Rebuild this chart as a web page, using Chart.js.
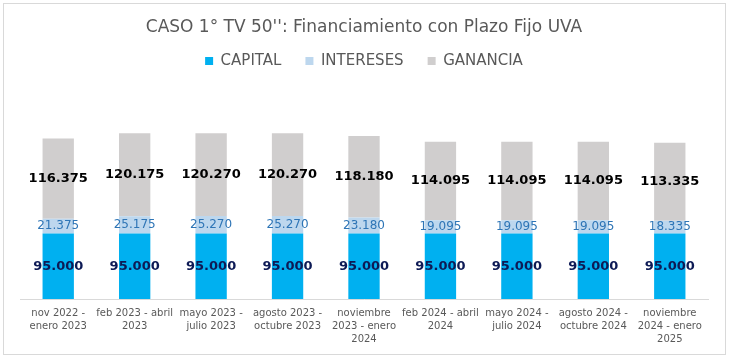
<!DOCTYPE html>
<html>
<head>
<meta charset="utf-8">
<script src="https://cdn.jsdelivr.net/npm/chart.js@4"></script>
<style>
  html, body { margin: 0; padding: 0; background: #fff; }
  #wrap { width: 730px; height: 359px; }
</style>
</head>
<body>
<div id="wrap"><canvas id="casoChart" width="730" height="359"></canvas></div>
<script>
// periods shown on the x axis (already split in lines)
const periods = [
  ['nov 2022 -', 'enero 2023'],
  ['feb 2023 - abril', '2023'],
  ['mayo 2023 -', 'julio 2023'],
  ['agosto 2023 -', 'octubre 2023'],
  ['noviembre', '2023 - enero', '2024'],
  ['feb 2024 - abril', '2024'],
  ['mayo 2024 -', 'julio 2024'],
  ['agosto 2024 -', 'octubre 2024'],
  ['noviembre', '2024 - enero', '2025']
];
const capital = [95000, 95000, 95000, 95000, 95000, 95000, 95000, 95000, 95000];
const intereses = [21375, 25175, 25270, 25270, 23180, 19095, 19095, 19095, 18335];
const ganancia = [116375, 120175, 120270, 120270, 118180, 114095, 114095, 114095, 113335];

const FONT = "'DejaVu Sans', sans-serif";

function fmt(n) {
  return String(n).replace(/\B(?=(\d{3})+(?!\d))/g, '.');
}

// white background + thin frame like the excel chart area
const frame = {
  id: 'frame',
  beforeDraw(chart) {
    const c = chart.ctx;
    c.save();
    c.fillStyle = '#fff';
    c.fillRect(0, 0, chart.width, chart.height);
    c.strokeStyle = '#d9d9d9';
    c.lineWidth = 1;
    c.strokeRect(3.5, 3.5, chart.width - 8, chart.height - 8);
    c.restore();
  }
};

// value labels centered in each segment
const labelStyles = [
  { font: 'bold 13px ' + FONT, color: '#0d1a55' },
  { font: '12px ' + FONT, color: '#2e75b6' },
  { font: 'bold 13px ' + FONT, color: '#000000' }
];
const segLabels = {
  id: 'segLabels',
  afterDatasetsDraw(chart) {
    const c = chart.ctx;
    c.save();
    c.textAlign = 'center';
    c.textBaseline = 'middle';
    chart.data.datasets.forEach((ds, i) => {
      const meta = chart.getDatasetMeta(i);
      c.font = labelStyles[i].font;
      c.fillStyle = labelStyles[i].color;
      meta.data.forEach((bar, j) => {
        const p = bar.getProps(['x', 'y', 'base'], true);
        c.fillText(fmt(ds.data[j]), p.x, (p.y + p.base) / 2);
      });
    });
    c.restore();
  }
};

new Chart(document.getElementById('casoChart'), {
  type: 'bar',
  data: {
    labels: periods,
    datasets: [
      { label: 'CAPITAL', data: capital, backgroundColor: '#00b0f0' },
      { label: 'INTERESES', data: intereses, backgroundColor: '#bdd7ee' },
      { label: 'GANANCIA', data: ganancia, backgroundColor: '#d0cece' }
    ]
  },
  options: {
    responsive: false,
    animation: false,
    layout: { padding: { left: 20, right: 22, top: 0, bottom: 5 } },
    datasets: {
      bar: { categoryPercentage: 1, barPercentage: 0.41 }
    },
    plugins: {
      title: {
        display: true,
        text: "CASO 1° TV 50'': Financiamiento con Plazo Fijo UVA",
        color: '#595959',
        font: { family: FONT, size: 17, weight: 'normal' },
        padding: { top: 17, bottom: -8 }
      },
      legend: {
        position: 'top',
        labels: {
          color: '#595959',
          font: { family: FONT, size: 15 },
          boxWidth: 8,
          boxHeight: 8,
          padding: 24
        }
      },
      tooltip: { enabled: false }
    },
    scales: {
      x: {
        stacked: true,
        grid: { display: false, drawTicks: false },
        border: { color: '#d9d9d9', width: 1 },
        ticks: {
          color: '#595959',
          font: { family: FONT, size: 10, lineHeight: 1.3 },
          padding: 8,
          maxRotation: 0,
          autoSkip: false
        }
      },
      y: {
        stacked: true,
        display: false,
        min: 0,
        max: 320000
      }
    }
  },
  plugins: [frame, segLabels]
});
</script>
</body>
</html>
